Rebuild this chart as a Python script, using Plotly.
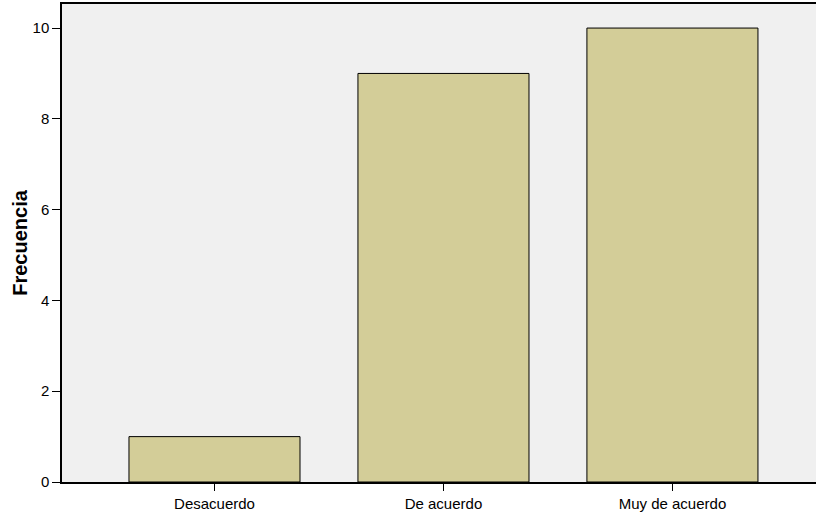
import plotly.graph_objects as go

categories = ["Desacuerdo", "De acuerdo", "Muy de acuerdo"]
frecuencia = [1, 9, 10]
y_ticks = [0, 2, 4, 6, 8, 10]

fig = go.Figure(go.Bar(
    x=categories, y=frecuencia,
    marker=dict(color="#d3cd98", line=dict(color="black", width=1)),
    width=0.747,
))
fig.update_layout(
    width=816, height=516,
    margin=dict(l=62, r=0, t=4, b=34),
    paper_bgcolor="white", plot_bgcolor="#f0f0f0",
    font=dict(family="Liberation Sans, Arial, sans-serif", size=15, color="black"),
    showlegend=False,
)
fig.update_xaxes(
    range=[-0.666, 2.627], showgrid=False, showline=True, linecolor="black", linewidth=1.5,
    mirror=True, ticks="outside", ticklen=7, tickcolor="black", tickfont=dict(size=15),
)
fig.update_yaxes(
    range=[0, 10.53], tickvals=y_ticks, showgrid=False, zeroline=False, showline=True,
    linecolor="black", linewidth=1.5, ticks="outside", ticklen=8, tickcolor="black",
    tickfont=dict(size=15),
    title=dict(text="<b>Frecuencia</b>", font=dict(size=20), standoff=0),
)
fig.write_html("out.html", config={"displayModeBar": False},
               post_script="document.body.style.margin='0';")
